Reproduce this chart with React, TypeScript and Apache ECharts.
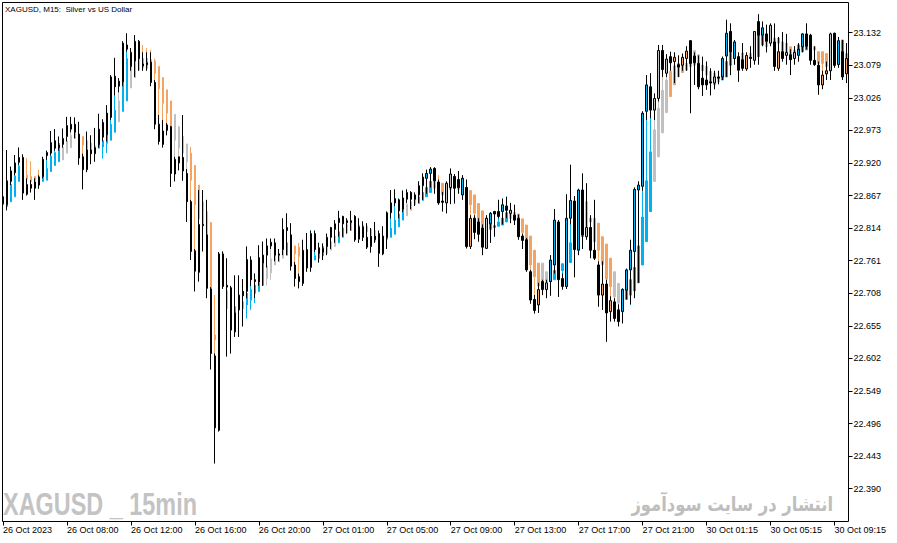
import { useEffect, useRef } from "react";
import * as echarts from "echarts";

const opens = [
  22.865, 22.852, 22.890, 22.904, 22.921, 22.929, 22.869, 22.885, 22.889, 22.884,
  22.898, 22.932, 22.936, 22.956, 22.949, 22.950, 22.963, 22.975, 22.983, 22.967,
  22.930, 22.909, 22.941, 22.935, 22.950, 22.962, 22.966, 22.994, 23.061, 23.053,
  23.052, 23.112, 23.077, 23.086, 23.118, 23.081, 23.083, 23.084, 23.051, 22.983,
  22.950, 22.973, 22.979, 22.902, 22.930, 22.929, 22.903, 22.857, 22.777, 22.742,
  22.820, 22.803, 22.715, 22.606, 22.485, 22.772, 22.721, 22.717, 22.645, 22.681,
  22.711, 22.711, 22.762, 22.730, 22.727, 22.770, 22.770, 22.785, 22.790, 22.770,
  22.779, 22.810, 22.803, 22.754, 22.735, 22.724, 22.779, 22.750, 22.805, 22.782,
  22.775, 22.784, 22.799, 22.812, 22.823, 22.833, 22.826, 22.823, 22.833, 22.796,
  22.816, 22.799, 22.784, 22.801, 22.805, 22.772, 22.799, 22.839, 22.855, 22.860,
  22.845, 22.861, 22.872, 22.868, 22.868, 22.883, 22.895, 22.903, 22.911, 22.889,
  22.858, 22.855, 22.880, 22.898, 22.893, 22.868, 22.880, 22.784, 22.830, 22.824,
  22.814, 22.781, 22.821, 22.841, 22.841, 22.841, 22.850, 22.838, 22.835, 22.830,
  22.801, 22.795, 22.743, 22.698, 22.689, 22.727, 22.714, 22.727, 22.754, 22.824,
  22.732, 22.719, 22.830, 22.858, 22.778, 22.876, 22.800, 22.815, 22.778, 22.754,
  22.705, 22.723, 22.678, 22.694, 22.681, 22.678, 22.713, 22.746, 22.776, 22.876,
  22.882, 23.004, 23.044, 23.006, 23.025, 23.103, 23.066, 23.093, 23.085, 23.080,
  23.079, 23.090, 23.119, 23.094, 23.082, 23.058, 23.055, 23.052, 23.050, 23.060,
  23.060, 23.094, 23.134, 23.090, 23.093, 23.088, 23.073, 23.092, 23.087, 23.150,
  23.128, 23.130, 23.115, 23.117, 23.074, 23.101, 23.095, 23.096, 23.090, 23.095,
  23.109, 23.130, 23.128, 23.087, 23.079, 23.047, 23.065, 23.070, 23.131, 23.080,
  23.101, 23.065,
];

const closes = [
  22.854, 22.891, 22.907, 22.920, 22.929, 22.871, 22.885, 22.879, 22.879, 22.897,
  22.926, 22.937, 22.953, 22.944, 22.945, 22.960, 22.981, 22.983, 22.970, 22.928,
  22.909, 22.941, 22.935, 22.945, 22.975, 22.986, 23.001, 23.060, 23.044, 23.045,
  23.115, 23.105, 23.100, 23.118, 23.090, 23.078, 23.080, 23.051, 22.983, 22.955,
  22.972, 22.982, 22.903, 22.926, 22.920, 22.907, 22.857, 22.776, 22.744, 22.820,
  22.818, 22.716, 22.610, 22.489, 22.772, 22.719, 22.718, 22.648, 22.676, 22.705,
  22.704, 22.763, 22.730, 22.727, 22.766, 22.757, 22.785, 22.791, 22.770, 22.772,
  22.812, 22.815, 22.752, 22.732, 22.727, 22.778, 22.749, 22.805, 22.779, 22.773,
  22.781, 22.799, 22.815, 22.821, 22.830, 22.821, 22.823, 22.826, 22.795, 22.816,
  22.799, 22.783, 22.801, 22.795, 22.773, 22.801, 22.839, 22.855, 22.862, 22.842,
  22.863, 22.872, 22.861, 22.861, 22.883, 22.897, 22.903, 22.910, 22.891, 22.855,
  22.856, 22.887, 22.902, 22.879, 22.880, 22.895, 22.784, 22.830, 22.807, 22.804,
  22.783, 22.830, 22.838, 22.837, 22.833, 22.852, 22.843, 22.843, 22.827, 22.800,
  22.794, 22.746, 22.697, 22.680, 22.714, 22.714, 22.725, 22.762, 22.827, 22.730,
  22.719, 22.830, 22.859, 22.779, 22.876, 22.803, 22.815, 22.778, 22.765, 22.705,
  22.723, 22.676, 22.696, 22.667, 22.662, 22.714, 22.746, 22.778, 22.877, 22.884,
  23.001, 23.047, 23.006, 23.025, 23.103, 23.072, 23.089, 23.083, 23.092, 23.076,
  23.092, 23.102, 23.082, 23.083, 23.044, 23.047, 23.047, 23.050, 23.060, 23.058,
  23.090, 23.131, 23.101, 23.117, 23.071, 23.074, 23.095, 23.090, 23.134, 23.128,
  23.140, 23.118, 23.144, 23.077, 23.101, 23.090, 23.100, 23.088, 23.100, 23.105,
  23.130, 23.110, 23.087, 23.080, 23.047, 23.063, 23.070, 23.130, 23.079, 23.119,
  23.060, 23.090,
];

const highs = [
  22.868, 22.941, 22.914, 22.933, 22.945, 22.934, 22.895, 22.892, 22.895, 22.900,
  22.930, 22.940, 22.972, 22.975, 22.963, 22.976, 22.995, 22.995, 22.994, 22.987,
  22.935, 22.971, 22.965, 22.977, 23.000, 22.991, 23.014, 23.063, 23.091, 23.058,
  23.118, 23.131, 23.107, 23.128, 23.120, 23.100, 23.100, 23.100, 23.055, 22.998,
  22.990, 22.985, 22.980, 22.930, 22.930, 22.998, 22.910, 22.860, 22.780, 22.876,
  22.876, 22.860, 22.718, 22.610, 22.775, 22.776, 22.765, 22.720, 22.737, 22.737,
  22.731, 22.784, 22.768, 22.740, 22.786, 22.792, 22.797, 22.797, 22.797, 22.780,
  22.830, 22.838, 22.822, 22.759, 22.740, 22.795, 22.806, 22.810, 22.810, 22.790,
  22.789, 22.805, 22.816, 22.827, 22.842, 22.834, 22.830, 22.842, 22.835, 22.830,
  22.825, 22.822, 22.814, 22.824, 22.810, 22.817, 22.841, 22.876, 22.877, 22.862,
  22.875, 22.877, 22.874, 22.872, 22.890, 22.903, 22.909, 22.913, 22.913, 22.893,
  22.873, 22.890, 22.911, 22.902, 22.907, 22.900, 22.893, 22.835, 22.835, 22.830,
  22.820, 22.835, 22.840, 22.842, 22.860, 22.862, 22.865, 22.855, 22.852, 22.836,
  22.805, 22.798, 22.746, 22.705, 22.725, 22.730, 22.730, 22.770, 22.845, 22.827,
  22.740, 22.869, 22.917, 22.866, 22.878, 22.903, 22.887, 22.835, 22.860, 22.760,
  22.760, 22.730, 22.703, 22.700, 22.690, 22.716, 22.748, 22.795, 22.880, 22.890,
  23.004, 23.063, 23.066, 23.033, 23.112, 23.112, 23.097, 23.101, 23.100, 23.095,
  23.098, 23.110, 23.120, 23.100, 23.095, 23.093, 23.085, 23.074, 23.070, 23.070,
  23.093, 23.153, 23.147, 23.120, 23.100, 23.115, 23.100, 23.110, 23.134, 23.162,
  23.150, 23.145, 23.147, 23.147, 23.125, 23.133, 23.130, 23.105, 23.110, 23.115,
  23.131, 23.147, 23.130, 23.110, 23.085, 23.070, 23.085, 23.132, 23.132, 23.125,
  23.120, 23.115,
];

const lows = [
  22.850, 22.843, 22.884, 22.900, 22.917, 22.860, 22.867, 22.872, 22.860, 22.878,
  22.895, 22.925, 22.932, 22.940, 22.940, 22.945, 22.955, 22.970, 22.960, 22.917,
  22.877, 22.905, 22.918, 22.922, 22.945, 22.955, 22.955, 22.990, 23.030, 23.035,
  23.045, 23.101, 23.070, 23.060, 23.070, 23.070, 23.070, 23.045, 22.975, 22.950,
  22.945, 22.965, 22.881, 22.890, 22.908, 22.891, 22.824, 22.762, 22.711, 22.727,
  22.776, 22.700, 22.584, 22.431, 22.483, 22.715, 22.605, 22.610, 22.637, 22.637,
  22.654, 22.700, 22.720, 22.700, 22.720, 22.720, 22.750, 22.780, 22.760, 22.760,
  22.770, 22.770, 22.745, 22.719, 22.716, 22.720, 22.743, 22.743, 22.775, 22.758,
  22.762, 22.770, 22.780, 22.790, 22.800, 22.800, 22.805, 22.810, 22.792, 22.790,
  22.793, 22.780, 22.774, 22.790, 22.751, 22.770, 22.780, 22.830, 22.850, 22.830,
  22.840, 22.855, 22.845, 22.850, 22.855, 22.860, 22.870, 22.880, 22.870, 22.852,
  22.841, 22.838, 22.853, 22.854, 22.870, 22.860, 22.781, 22.780, 22.796, 22.792,
  22.770, 22.780, 22.790, 22.800, 22.830, 22.820, 22.830, 22.822, 22.819, 22.795,
  22.780, 22.743, 22.691, 22.675, 22.676, 22.705, 22.700, 22.704, 22.740, 22.702,
  22.714, 22.715, 22.820, 22.734, 22.770, 22.780, 22.795, 22.765, 22.762, 22.686,
  22.681, 22.629, 22.662, 22.662, 22.654, 22.659, 22.698, 22.690, 22.700, 22.725,
  22.875, 22.990, 22.993, 22.990, 23.020, 23.060, 23.060, 23.070, 23.050, 23.060,
  23.070, 23.070, 23.001, 23.047, 23.040, 23.029, 23.039, 23.030, 23.040, 23.048,
  23.055, 23.060, 23.063, 23.080, 23.052, 23.070, 23.070, 23.075, 23.080, 23.080,
  23.110, 23.100, 23.110, 23.070, 23.070, 23.085, 23.080, 23.063, 23.080, 23.085,
  23.100, 23.105, 23.080, 23.078, 23.031, 23.040, 23.055, 23.055, 23.075, 23.075,
  23.055, 23.050,
];

// coloured (smoothed Heiken Ashi) candles: body top and body bottom
const haTop = [
  22.862, 22.865, 22.885, 22.899, 22.915, 22.911, 22.900, 22.898, 22.898, 22.898,
  22.900, 22.911, 22.931, 22.937, 22.952, 22.946, 22.956, 22.965, 22.969, 22.965,
  22.963, 22.956, 22.952, 22.948, 22.952, 22.956, 22.983, 22.983, 23.006, 23.021,
  23.069, 23.090, 23.077, 23.109, 23.090, 23.090, 23.090, 23.088, 23.086, 23.077,
  23.059, 23.039, 23.021, 22.999, 22.979, 22.963, 22.951, 22.936, 22.916, 22.884,
  22.857, 22.841, 22.823, 22.640, 22.749, 22.749, 22.712, 22.692, 22.686, 22.689,
  22.694, 22.708, 22.714, 22.721, 22.731, 22.756, 22.752, 22.764, 22.776, 22.772,
  22.779, 22.790, 22.792, 22.785, 22.783, 22.776, 22.767, 22.764, 22.769, 22.774,
  22.784, 22.784, 22.792, 22.801, 22.808, 22.814, 22.821, 22.824, 22.833, 22.819,
  22.819, 22.817, 22.812, 22.810, 22.805, 22.799, 22.801, 22.814, 22.827, 22.837,
  22.848, 22.853, 22.857, 22.862, 22.865, 22.872, 22.880, 22.890, 22.891, 22.888,
  22.887, 22.885, 22.881, 22.884, 22.884, 22.895, 22.880, 22.875, 22.868, 22.854,
  22.842, 22.830, 22.821, 22.818, 22.824, 22.830, 22.839, 22.843, 22.839, 22.837,
  22.829, 22.819, 22.801, 22.778, 22.757, 22.757, 22.743, 22.734, 22.745, 22.754,
  22.756, 22.765, 22.790, 22.801, 22.811, 22.840, 22.857, 22.830, 22.830, 22.822,
  22.800, 22.788, 22.765, 22.743, 22.724, 22.714, 22.721, 22.730, 22.750, 22.785,
  22.832, 22.891, 22.938, 22.974, 23.009, 23.038, 23.055, 23.069, 23.078, 23.082,
  23.081, 23.082, 23.101, 23.103, 23.096, 23.079, 23.077, 23.069, 23.066, 23.060,
  23.070, 23.085, 23.112, 23.110, 23.093, 23.099, 23.094, 23.098, 23.101, 23.128,
  23.128, 23.123, 23.128, 23.123, 23.123, 23.117, 23.115, 23.109, 23.104, 23.112,
  23.109, 23.115, 23.112, 23.109, 23.101, 23.101, 23.098, 23.093, 23.088, 23.112,
  23.120, 23.098,
];

const haBottom = [
  22.852, 22.849, 22.857, 22.865, 22.890, 22.887, 22.894, 22.890, 22.891, 22.890,
  22.890, 22.892, 22.906, 22.916, 22.922, 22.925, 22.936, 22.945, 22.960, 22.949,
  22.949, 22.919, 22.938, 22.941, 22.944, 22.946, 22.952, 22.957, 22.970, 22.987,
  23.004, 23.021, 23.042, 23.059, 23.071, 23.075, 23.074, 23.069, 23.066, 23.041,
  23.017, 23.001, 22.952, 22.957, 22.944, 22.936, 22.922, 22.892, 22.852, 22.829,
  22.820, 22.803, 22.705, 22.632, 22.673, 22.725, 22.683, 22.678, 22.675, 22.681,
  22.683, 22.689, 22.697, 22.708, 22.711, 22.721, 22.732, 22.741, 22.754, 22.759,
  22.765, 22.770, 22.779, 22.772, 22.768, 22.757, 22.757, 22.760, 22.762, 22.765,
  22.769, 22.773, 22.778, 22.784, 22.790, 22.799, 22.806, 22.810, 22.816, 22.811,
  22.808, 22.808, 22.803, 22.792, 22.792, 22.789, 22.796, 22.799, 22.804, 22.816,
  22.827, 22.834, 22.843, 22.852, 22.854, 22.859, 22.865, 22.872, 22.879, 22.884,
  22.868, 22.870, 22.877, 22.879, 22.877, 22.879, 22.865, 22.852, 22.838, 22.816,
  22.804, 22.811, 22.812, 22.815, 22.817, 22.819, 22.824, 22.830, 22.827, 22.819,
  22.807, 22.784, 22.754, 22.735, 22.720, 22.727, 22.727, 22.727, 22.730, 22.732,
  22.745, 22.749, 22.758, 22.789, 22.787, 22.800, 22.816, 22.824, 22.792, 22.778,
  22.755, 22.731, 22.719, 22.702, 22.692, 22.681, 22.698, 22.705, 22.712, 22.725,
  22.754, 22.792, 22.841, 22.890, 22.930, 22.969, 23.002, 23.028, 23.047, 23.060,
  23.067, 23.071, 23.077, 23.079, 23.082, 23.070, 23.063, 23.052, 23.047, 23.052,
  23.055, 23.060, 23.079, 23.090, 23.083, 23.089, 23.087, 23.093, 23.093, 23.093,
  23.112, 23.109, 23.115, 23.107, 23.115, 23.096, 23.101, 23.096, 23.096, 23.098,
  23.101, 23.104, 23.098, 23.104, 23.082, 23.082, 23.077, 23.071, 23.079, 23.098,
  23.077, 23.090,
];

// coloured wicks that reach beyond the price bar: [bar index, price]
const haWickHighs = [
  [6, 22.928], [7, 22.923], [9, 22.909], [18, 22.993], [35, 23.112], [36, 23.107],
  [37, 23.104], [38, 23.090], [47, 22.946], [53, 22.705], [74, 22.790], [109, 22.900],
];
const haWickLows = [
  [25, 22.927], [26, 22.936], [48, 22.808], [49, 22.776], [51, 22.754], [54, 22.583],
  [61, 22.667], [62, 22.681], [63, 22.692], [66, 22.721], [67, 22.730], [155, 22.664],
  [157, 22.689],
];

// colour of each coloured candle: B = blue, O = orange, G = grey
const haTones = (
  "BBBBBGOOOO" + "BBBBBGGGOO" + "OOOGBBBBBG" + "BBGOGOOOOO" + "OOOGGGGOOO" +
  "GGOOOGGBBB" + "OBBBBBGGGG" + "GBGOOOOBBB" + "BGGGBBGOOO" + "OOOGOGBBBB" +
  "BGOOBBBBGO" + "OGGGGBOOOO" + "OGBBBBBGOO" + "OOOOOGGBBB" + "BBBGBBGOOO" +
  "OOOGGBBBBB" + "BBBGGGGOOO" + "OOOGGOGOGG" + "BBBBOOOGGB" + "BGGOOOGOGB" +
  "BBBOOOOGBB" + "BO"
).split("");

const toneColors: Record<string, string> = { B: "#00B0F0", O: "#F4A460", G: "#C0C0C0" };

const timeLabels = [
  "26 Oct 2023", "26 Oct 08:00", "26 Oct 12:00", "26 Oct 16:00", "26 Oct 20:00",
  "27 Oct 01:00", "27 Oct 05:00", "27 Oct 09:00", "27 Oct 13:00", "27 Oct 17:00",
  "27 Oct 21:00", "30 Oct 01:15", "30 Oct 05:15", "30 Oct 09:15",
];

const priceTicks = [
  22.390, 22.443, 22.496, 22.549, 22.602, 22.655, 22.708, 22.761,
  22.814, 22.867, 22.920, 22.973, 23.026, 23.079, 23.132,
];

const LABEL_EVERY = 16;

export default function App() {
  const ref = useRef<HTMLDivElement>(null);

  useEffect(() => {
    if (!ref.current) return;
    const chart = echarts.init(ref.current, null, { renderer: "svg" });
    const cats = opens.map((_, i) => String(i));
    const main = opens.map((o, i) => [o, closes[i], lows[i], highs[i]]);

    const wickHi: Record<number, number> = {};
    haWickHighs.forEach(([i, v]) => (wickHi[i] = v));
    const wickLo: Record<number, number> = {};
    haWickLows.forEach(([i, v]) => (wickLo[i] = v));

    const haData = haTop.map((top, i) => {
      const bot = haBottom[i];
      const tone = haTones[i] || "G";
      const col = toneColors[tone];
      const hi = Math.max(top, highs[i], wickHi[i] ?? top);
      const lo = Math.min(bot, lows[i], wickLo[i] ?? bot);
      const value = tone === "B" ? [bot, top, lo, hi] : [top, bot, lo, hi];
      return {
        value,
        itemStyle: { color: col, color0: col, borderColor: col, borderColor0: col, borderWidth: 1 },
      };
    });

    const font = "'Liberation Sans', Arial, sans-serif";

    chart.setOption({
      animation: false,
      backgroundColor: "#ffffff",
      grid: { left: 0.5, top: 2.5, width: 848, height: 519, show: false },
      xAxis: {
        type: "category",
        data: cats,
        boundaryGap: true,
        axisLine: { show: false },
        axisTick: {
          show: true,
          alignWithLabel: true,
          interval: (i: number) => i % LABEL_EVERY === 0,
          length: 4,
          lineStyle: { color: "#000", width: 1 },
        },
        axisLabel: {
          interval: (i: number) => i % LABEL_EVERY === 0,
          formatter: (_v: string, i: number) => timeLabels[Math.round(i / LABEL_EVERY)] || "",
          align: "left",
          color: "#000",
          fontSize: 9,
          fontFamily: font,
          margin: 4,
        },
        splitLine: { show: false },
      },
      yAxis: {
        type: "value",
        position: "right",
        min: 22.3366,
        max: 23.1811,
        axisLine: { show: false },
        axisTick: {
          show: true,
          length: 4,
          customValues: priceTicks,
          lineStyle: { color: "#000", width: 1 },
        },
        axisLabel: {
          customValues: priceTicks,
          formatter: (v: number) => v.toFixed(3),
          color: "#000",
          fontSize: 9,
          fontFamily: font,
          margin: 5,
        },
        splitLine: { show: false },
      },
      series: [
        {
          type: "candlestick",
          data: haData,
          barWidth: 2,
          z: 2,
        },
        {
          type: "candlestick",
          data: main,
          barWidth: 2,
          z: 3,
          itemStyle: {
            color: "rgba(255,255,255,0)",
            color0: "#000000",
            borderColor: "#000000",
            borderColor0: "#000000",
            borderWidth: 1,
          },
        },
      ],
      graphic: [
        {
          type: "rect",
          z: 100,
          silent: true,
          shape: { x: 2.5, y: 2.5, width: 846, height: 519 },
          style: { fill: "none", stroke: "#000", lineWidth: 1 },
        },
        {
          type: "text",
          z: 100,
          x: 5,
          y: 9,
          style: {
            text: "XAGUSD, M15:  Silver vs US Dollar",
            fill: "#000",
            fontSize: 8,
            fontFamily: font,
            verticalAlign: "middle",
          },
        },
        {
          type: "text",
          z: 1,
          x: 3,
          y: 504.5,
          scaleX: 0.756,
          style: {
            text: "XAGUSD _ 15min",
            fill: "#C3C3C3",
            fontSize: 31,
            fontWeight: "bold",
            fontFamily: font,
            verticalAlign: "middle",
          },
        },
        {
          type: "text",
          z: 1,
          x: 833,
          y: 504,
          scaleX: 0.82,
          style: {
            text: "انتشار در سایت سودآموز",
            fill: "#BEBEBE",
            fontSize: 20,
            fontWeight: "bold",
            fontFamily: "'DejaVu Sans', sans-serif",
            align: "right",
            verticalAlign: "middle",
          },
        },
      ],
    });

    return () => chart.dispose();
  }, []);

  return (
    <div
      ref={ref}
      style={{ position: "fixed", left: 0, top: 0, width: 897, height: 543, background: "#fff" }}
    />
  );
}
